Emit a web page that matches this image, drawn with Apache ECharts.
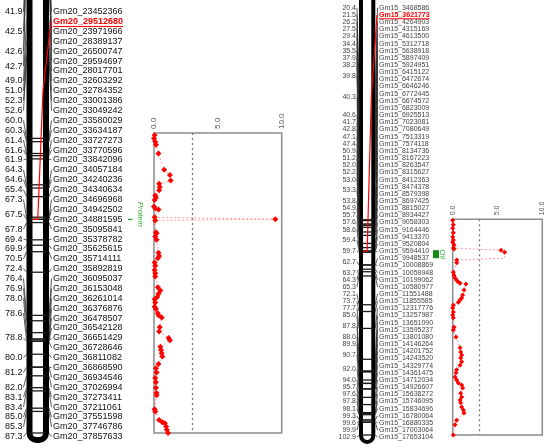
<!DOCTYPE html>
<html>
<head>
<meta charset="UTF-8">
<script src="https://cdn.jsdelivr.net/npm/echarts@6/dist/echarts.min.js"></script>
<style>
    html, body { margin: 0; padding: 0; background: #fff; }
    #main { width: 550px; height: 448px; }
</style>
</head>
<body>
<div id="main"></div>
<script type="text/javascript">
    // ---- Gm20 linkage group (left) ----
    var gm20Names = ['Gm20_23452366', 'Gm20_29512680', 'Gm20_23971966', 'Gm20_28389137', 'Gm20_26500747',
        'Gm20_29594697', 'Gm20_28017701', 'Gm20_32603292', 'Gm20_32784352', 'Gm20_33001386', 'Gm20_33049242',
        'Gm20_33580029', 'Gm20_33634187', 'Gm20_33727273', 'Gm20_33770596', 'Gm20_33842096', 'Gm20_34057184',
        'Gm20_34240236', 'Gm20_34340634', 'Gm20_34696968', 'Gm20_34942502', 'Gm20_34881595', 'Gm20_35095841',
        'Gm20_35378782', 'Gm20_35625615', 'Gm20_35714111', 'Gm20_35892819', 'Gm20_36095037', 'Gm20_36153048',
        'Gm20_36261014', 'Gm20_36376876', 'Gm20_36478507', 'Gm20_36542128', 'Gm20_36651429', 'Gm20_36728646',
        'Gm20_36811082', 'Gm20_36868590', 'Gm20_36934546', 'Gm20_37026994', 'Gm20_37273411', 'Gm20_37211061',
        'Gm20_37551598', 'Gm20_37746786', 'Gm20_37857633'];
    var gm20Cm = [41.9, 42.5, 42.5, 42.5, 42.6, 42.7, 42.7, 49.0, 51.0, 52.3, 52.6, 60.0, 60.3, 61.4, 61.6, 61.9,
        64.3, 64.6, 65.4, 67.3, 67.5, 67.5, 67.8, 69.4, 69.9, 70.5, 72.4, 76.4, 76.9, 78.0, 78.6, 78.6, 78.8, 78.8,
        78.8, 80.0, 81.2, 81.2, 82.0, 83.1, 83.4, 85.0, 85.3, 87.3];
    var gm20Hit = 1;          // highlighted marker (red)
    var gm20HitCm = 67.5;     // where it points on the map
    var gm20Range = [59.5, 87.3];
    var gm20LodCm = [59.7, 60.0, 60.3, 60.6, 61.4, 62.9, 63.4, 63.9, 64.2, 64.5, 64.8, 65.3, 65.5, 65.7, 66.3, 66.5,
        66.6, 67.3, 67.5, 67.6, 68.7, 68.8, 69.1, 69.4, 70.6, 70.9, 71.1, 71.5, 71.8, 72.2, 72.5, 72.8, 73.8, 74.1,
        74.4, 74.7, 74.9, 75.2, 75.6, 75.8, 76.2, 76.4, 76.6, 77.5, 77.9, 78.5, 78.7, 79.3, 79.6, 79.9, 80.2, 80.9,
        81.3, 81.7, 82.2, 82.6, 83.1, 83.6, 83.8, 85.1, 85.3, 86.1, 86.3, 86.4, 86.7, 87.0, 87.3];
    var gm20Lod = [0.05, 0.0, 0.1, 0.15, 0.35, 0.8, 1.25, 1.3, 0.4, 0.45, 0.4, 0.1, 0.15, 0.05, 0.0, 0.1,
        0.35, 0.05, 9.5, 0.1, 0.15, 0.2, 0.1, 0.2, 0.35, 0.4, 0.3, 0.05, 0.1, 0.05, 0.1, 0.1, 0.3, 0.5,
        0.35, 0.25, 0.05, 0.1, 0.05, 0.15, 0.3, 0.35, 0.6, 0.45, 0.4, 1.15, 1.25, 0.5, 0.55, 0.6, 0.65, 0.35,
        0.15, 0.2, 0.1, 0.15, 0.15, 0.2, 0.2, 0.05, 0.1, 0.4, 0.65, 0.85, 0.95, 1.0, 1.1];
    var gm20Thr = 3.0;
    var gm20Qtl = [67.45, 67.55];
    var gm20Trait = 'Protein';

    // ---- Gm15 linkage group (right) ----
    var gm15Names = ['Gm15_3468586', 'Gm15_3621773', 'Gm15_4264903', 'Gm15_4315169', 'Gm15_4613500',
        'Gm15_5312718', 'Gm15_5638918', 'Gm15_5897409', 'Gm15_5924951', 'Gm15_6415122', 'Gm15_6472674',
        'Gm15_6646246', 'Gm15_6772445', 'Gm15_6674572', 'Gm15_6823009', 'Gm15_6925513', 'Gm15_7023081',
        'Gm15_7080649', 'Gm15_7513319', 'Gm15_7574118', 'Gm15_8134736', 'Gm15_8167223', 'Gm15_8263547',
        'Gm15_8315627', 'Gm15_8412363', 'Gm15_8474378', 'Gm15_8579398', 'Gm15_8697425', 'Gm15_8815027',
        'Gm15_8934427', 'Gm15_9058303', 'Gm15_9164446', 'Gm15_9413370', 'Gm15_9520804', 'Gm15_9594410',
        'Gm15_9948537', 'Gm15_10008869', 'Gm15_10059948', 'Gm15_10199062', 'Gm15_10580977', 'Gm15_11551488',
        'Gm15_11855585', 'Gm15_12317776', 'Gm15_13257987', 'Gm15_13651090', 'Gm15_13595237', 'Gm15_13801080',
        'Gm15_14146264', 'Gm15_14201752', 'Gm15_14243520', 'Gm15_14329774', 'Gm15_14361475', 'Gm15_14712034',
        'Gm15_14926607', 'Gm15_15638272', 'Gm15_15746095', 'Gm15_15834696', 'Gm15_16780064', 'Gm15_16880335',
        'Gm15_17003064', 'Gm15_17653104'];
    var gm15Cm = [20.4, 21.5, 26.2, 27.5, 29.4, 34.4, 35.5, 37.9, 38.2, 39.8, 39.8, 40.3, 40.3, 40.3, 40.3, 40.6,
        41.7, 42.8, 47.1, 47.4, 50.9, 51.2, 52.0, 52.2, 53.0, 53.3, 53.3, 53.8, 54.9, 55.7, 57.6, 58.6, 59.4, 59.4,
        59.7, 62.7, 62.7, 63.7, 64.3, 65.3, 72.1, 73.7, 77.7, 85.0, 87.8, 87.8, 88.0, 89.9, 90.7, 90.7, 92.0, 92.0,
        94.0, 95.7, 97.6, 97.8, 98.1, 99.3, 99.6, 99.9, 102.9];
    var gm15Hit = 1;
    var gm15HitCm = 59.4;
    var gm15Range = [51.9, 102.9];
    var gm15LodCm = [52.1, 53.2, 54.0, 55.1, 56.1, 56.8, 57.3, 58.0, 58.7, 58.9, 59.2, 59.7, 61.1, 61.5, 62.2,
        64.4, 65.1, 65.8, 66.3, 66.7, 67.0, 67.2, 68.6, 69.8, 70.5, 71.0, 71.5, 72.2, 72.9, 73.8, 74.5, 75.2,
        77.4, 78.1, 79.7, 82.3, 83.3, 84.0, 84.7, 85.6, 86.4, 87.5, 88.2, 89.2, 89.9, 90.6, 91.1, 91.8, 93.0,
        93.9, 94.6, 95.3, 96.3, 97.0, 97.7, 99.4, 100.5, 102.9];
    var gm15Lod = [0.0, 0.07, 0.0, 0.07, 0.0, 0.07, 0.0, 0.15, 0.07, 0.15, 5.4, 5.8, 5.75, 0.45, 0.45,
        0.07, 0.15, 0.26, 0.44, 0.63, 0.82, 1.48, 1.26, 1.11, 1.0, 0.82, 0.63, 0.07, 0.0, 0.07, 0.0, 0.07,
        0.15, 0.07, 0.37, 0.82, 0.89, 1.0, 0.89, 1.0, 0.82, 0.44, 0.37, 0.26, 0.44, 0.63, 1.0, 1.11, 0.89,
        1.0, 0.82, 0.89, 1.0, 1.19, 1.26, 0.44, 0.26, 0.07];
    var gm15Hidden = [12];    // profile vertex drawn without a marker
    var gm15Thr = 3.0;
    var gm15Qtl = [59.2, 61.1];
    var gm15Trait = 'Oil';

    var FONT = "Arial, 'Liberation Sans', sans-serif";
    var measureCtx = document.createElement('canvas').getContext('2d');

    function textWidth(txt, size, weight) {
        measureCtx.font = (weight || 'normal') + ' ' + size + 'px ' + FONT;
        return measureCtx.measureText(txt).width;
    }

    // draws one chromosome: body, marker ticks, labels and connectors
    function chromRender(names, cms, hit, hitCm, range, st) {
        return function (params, api) {
            var cs = params.coordSys;
            var xl = cs.x, xr = cs.x + cs.width, b = st.border;
            var yAt = function (cm) { return api.coord([0, cm])[1]; };
            var kids = [];
            var yBot = yAt(range[1]) + st.cap;

            kids.push({
                type: 'rect',
                shape: {x: xl, y: -20, width: xr - xl, height: yBot + 20, r: [0, 0, st.cap, st.cap]},
                style: {fill: '#fff', stroke: '#000', lineWidth: b}
            });
            cms.forEach(function (cm) {
                if (cm >= range[0] && cm <= range[1]) {
                    var y = yAt(cm);
                    kids.push({type: 'line', shape: {x1: xl, y1: y, x2: xr, y2: y},
                        style: {stroke: '#1a1a1a', lineWidth: 1.3}});
                }
            });

            // marker names on the right
            names.forEach(function (n, i) {
                var ry = st.top + i * st.step;
                var isHit = i === hit;
                if (!isHit) {
                    kids.push({type: 'line',
                        shape: {x1: xr + b / 2, y1: yAt(cms[i]), x2: xr + st.gap - 1.5, y2: ry},
                        style: {stroke: '#333', lineWidth: 0.8}});
                }
                kids.push({type: 'text', style: {
                    text: n, x: xr + st.gap, y: ry, fill: isHit ? '#ff0000' : st.color,
                    fontSize: st.font, fontFamily: FONT, fontWeight: isHit ? 'bold' : 'normal',
                    align: 'left', verticalAlign: 'middle'
                }});
            });

            // positions (cM) on the left, one label per distinct value
            var groups = [];
            cms.forEach(function (cm, i) {
                var g = null;
                groups.forEach(function (q) { if (q.cm === cm) g = q; });
                if (!g) { g = {cm: cm, rows: []}; groups.push(g); }
                g.rows.push(i);
            });
            groups.forEach(function (g) {
                var r = g.rows.reduce(function (a, c) { return a + c; }, 0) / g.rows.length;
                var ry = st.top + r * st.step;
                kids.push({type: 'line',
                    shape: {x1: xl - st.pgap + 1, y1: ry, x2: xl - b / 2, y2: yAt(g.cm)},
                    style: {stroke: '#333', lineWidth: 0.8}});
                kids.push({type: 'text', style: {
                    text: g.cm.toFixed(1), x: xl - st.pgap, y: ry, fill: st.color,
                    fontSize: st.font, fontFamily: FONT, align: 'right', verticalAlign: 'middle'
                }});
            });

            // highlighted marker: red leader to the QTL position + underline
            var hy = st.top + hit * st.step, py = yAt(hitCm), cx = (xl + xr) / 2;
            kids.push({type: 'polyline',
                shape: {points: [[xr + st.gap - 2, hy], [xr - b / 2, hy + (py - hy) * 0.35], [cx, py], [xl + b / 2, py]]},
                style: {stroke: '#ff0000', lineWidth: 1.2, fill: null}});
            var w = textWidth(names[hit], st.font, 'bold');
            var uy = hy + st.font * 0.55;
            kids.push({type: 'line', shape: {x1: xr + st.gap, y1: uy, x2: xr + st.gap + w, y2: uy},
                style: {stroke: '#ff0000', lineWidth: 1}});

            return {type: 'group', children: kids};
        };
    }

    // QTL interval bar and trait name beside a LOD profile
    function qtlRender(qtl, trait, st) {
        return function (params, api) {
            var cs = params.coordSys;
            var y1 = api.coord([0, qtl[0]])[1], y2 = api.coord([0, qtl[1]])[1];
            return {type: 'group', children: [
                {type: 'rect', shape: {x: cs.x - st.bx, y: y1, width: st.bw, height: Math.max(y2 - y1, 1)},
                    style: {fill: '#138a13'}},
                {type: 'text', x: cs.x - st.tx, y: (y1 + y2) / 2 + st.ty, rotation: -Math.PI / 2,
                    style: {text: trait, fill: '#3aa83a', fontSize: st.font, fontFamily: FONT,
                        fontStyle: 'italic', align: 'center', verticalAlign: 'middle'}}
            ]};
        };
    }

    function lodAxis(grid, size) {
        return {
            gridIndex: grid, type: 'value', min: 0, max: 10, interval: 5, position: 'top',
            axisLine: {show: false}, axisTick: {show: false}, splitLine: {show: false},
            axisLabel: {rotate: -90, fontSize: size, color: '#555', margin: 4, fontFamily: FONT,
                formatter: function (v) { return v.toFixed(1); }}
        };
    }

    function lodSeries(xi, cm, lod, thr, hidden, size) {
        return {
            type: 'line', xAxisIndex: xi, yAxisIndex: xi,
            data: lod.map(function (v, i) {
                var d = {value: [v, cm[i]]};
                if (hidden.indexOf(i) >= 0) d.symbol = 'none';
                return d;
            }),
            symbol: 'diamond', symbolSize: size,
            itemStyle: {color: '#ff0000'},
            lineStyle: {color: '#ff9a9a', width: 1, type: [2, 2]},
            markLine: {
                silent: true, symbol: 'none', label: {show: false},
                lineStyle: {color: '#777', width: 1.3, type: [2, 3]},
                data: [{xAxis: thr}]
            }
        };
    }

    var myChart = echarts.init(document.getElementById('main'));
    var option = {
        animation: false,
        grid: [
            {left: 29.5, top: 133, width: 16.5, height: 300},
            {left: 154, top: 133, width: 127.7, height: 300, show: true, borderColor: '#8c8c8c', borderWidth: 1.5},
            {left: 361, top: 219.3, width: 12.3, height: 215.7},
            {left: 452.7, top: 219.3, width: 89.6, height: 215.7, show: true, borderColor: '#8c8c8c', borderWidth: 1.5}
        ],
        xAxis: [
            {gridIndex: 0, type: 'value', min: 0, max: 1, show: false},
            lodAxis(1, 8),
            {gridIndex: 2, type: 'value', min: 0, max: 1, show: false},
            lodAxis(3, 7)
        ],
        yAxis: [
            {gridIndex: 0, type: 'value', min: gm20Range[0], max: gm20Range[1], inverse: true, show: false},
            {gridIndex: 1, type: 'value', min: gm20Range[0], max: gm20Range[1], inverse: true, show: false},
            {gridIndex: 2, type: 'value', min: gm15Range[0], max: gm15Range[1], inverse: true, show: false},
            {gridIndex: 3, type: 'value', min: gm15Range[0], max: gm15Range[1], inverse: true, show: false}
        ],
        series: [
            {
                type: 'custom', xAxisIndex: 0, yAxisIndex: 0, data: [[0, gm20Range[0]]],
                renderItem: chromRender(gm20Names, gm20Cm, gm20Hit, gm20HitCm, gm20Range,
                    {border: 6, cap: 7, top: 11.7, step: 9.884, gap: 7, pgap: 7, font: 9, color: '#111'})
            },
            lodSeries(1, gm20LodCm, gm20Lod, gm20Thr, [], 6),
            {
                type: 'custom', xAxisIndex: 1, yAxisIndex: 1, data: [[0, gm20Qtl[0]]],
                renderItem: qtlRender(gm20Qtl, gm20Trait, {bx: 26, bw: 4.5, tx: 14, ty: -5, font: 8})
            },
            {
                type: 'custom', xAxisIndex: 2, yAxisIndex: 2, data: [[0, gm15Range[0]]],
                renderItem: chromRender(gm15Names, gm15Cm, gm15Hit, gm15HitCm, gm15Range,
                    {border: 4, cap: 7, top: 7.8, step: 7.157, gap: 5.7, pgap: 5, font: 7, color: '#444'})
            },
            lodSeries(3, gm15LodCm, gm15Lod, gm15Thr, gm15Hidden, 5),
            {
                type: 'custom', xAxisIndex: 3, yAxisIndex: 3, data: [[0, gm15Qtl[0]]],
                renderItem: qtlRender(gm15Qtl, gm15Trait, {bx: 19.7, bw: 6, tx: 10, ty: 0, font: 8})
            }
        ]
    };
    myChart.setOption(option);
</script>
</body>
</html>
